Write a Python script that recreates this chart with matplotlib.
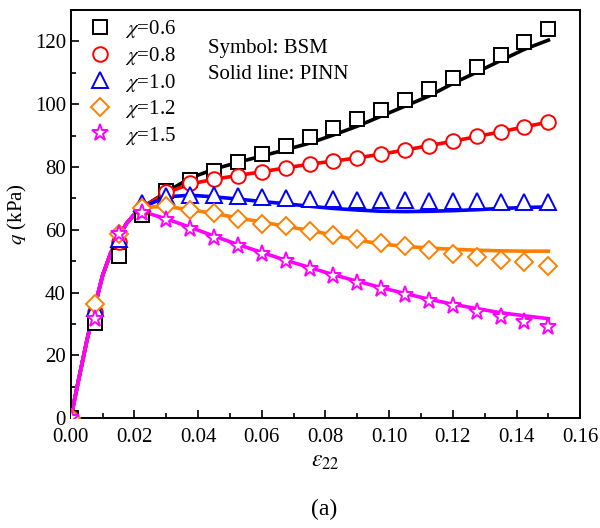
import matplotlib
matplotlib.use("Agg")
import matplotlib.pyplot as plt
from matplotlib.ticker import MultipleLocator, FormatStrFormatter

plt.rcParams['font.family'] = ['Liberation Serif', 'DejaVu Serif']
plt.rcParams['mathtext.fontset'] = 'stix'

# BSM sample strains
strain_bsm = [0.0, 0.0075, 0.015, 0.0225, 0.03, 0.0375, 0.045, 0.0525, 0.06, 0.0675,
              0.075, 0.0825, 0.09, 0.0975, 0.105, 0.1125, 0.12, 0.1275, 0.135, 0.1425, 0.15]

bsm_06 = [0.0, 30.3, 51.7, 64.7, 72.3, 75.8, 78.8, 81.5, 84.1, 86.8,
          89.5, 92.3, 95.2, 98.2, 101.4, 104.8, 108.4, 112.0, 115.8, 119.8, 123.9]
bsm_08 = [0.0, 33.8, 56.1, 66.8, 72.1, 75.0, 76.1, 77.2, 78.5, 79.8,
          80.9, 81.8, 82.8, 84.2, 85.4, 86.8, 88.2, 89.8, 91.1, 92.8, 94.4]
bsm_10 = [0.0, 35.1, 57.2, 68.4, 70.8, 71.2, 71.2, 70.8, 70.4, 70.1,
          69.9, 69.8, 69.6, 69.5, 69.4, 69.3, 69.2, 69.1, 69.0, 68.9, 68.8]
bsm_12 = [0.0, 36.5, 58.8, 66.8, 67.5, 66.3, 65.2, 63.4, 62.0, 61.1,
          59.7, 58.3, 57.0, 55.8, 54.8, 53.5, 52.4, 51.4, 50.5, 49.6, 48.5]
bsm_15 = [0.0, 31.7, 58.8, 65.2, 63.1, 60.4, 57.5, 54.9, 52.4, 50.0,
          47.6, 45.2, 43.2, 41.1, 39.1, 37.3, 35.6, 33.8, 32.2, 30.6, 29.0]

# PINN prediction strains
strain_pinn = [0.0, 0.0025, 0.005, 0.0075, 0.01, 0.0125, 0.015, 0.0175, 0.02, 0.0225,
               0.03, 0.0375, 0.045, 0.0525, 0.06, 0.0675, 0.075, 0.0825, 0.09, 0.0975,
               0.105, 0.1125, 0.12, 0.1275, 0.135, 0.1425, 0.15]

early = [0.0, 12.5, 24.5, 35.5, 45.5, 52.5, 57.8, 62.0, 65.0, 67.2]
pinn_06 = early + [72.0, 76.5, 79.3, 81.5, 83.5, 85.5, 87.6, 90.2, 93.0, 96.2,
                   99.4, 102.6, 106.6, 110.2, 113.9, 117.5, 120.4]
pinn_08 = early + [71.8, 74.6, 76.1, 77.3, 78.5, 79.7, 80.9, 81.9, 82.9, 84.1,
                   85.4, 86.8, 88.2, 89.7, 91.2, 92.8, 94.3]
pinn_10 = early + [70.5, 71.0, 70.5, 69.8, 69.0, 68.3, 67.5, 66.8, 66.3, 65.9,
                   65.8, 65.9, 66.1, 66.4, 66.8, 67.1, 67.3]
pinn_12 = early + [67.4, 66.4, 65.2, 63.8, 62.5, 61.1, 59.8, 58.3, 56.7, 55.5,
                   54.7, 54.2, 53.8, 53.5, 53.3, 53.2, 53.2]
pinn_15 = early[:-1] + [65.8, 63.5, 60.8, 58.0, 55.3, 52.8, 50.3, 48.0, 45.7, 43.6, 41.6,
                        39.7, 37.9, 36.3, 34.9, 33.6, 32.6, 31.7]

labels = [r'$\chi$=0.6', r'$\chi$=0.8', r'$\chi$=1.0', r'$\chi$=1.2', r'$\chi$=1.5']
colors = ['black', 'red', 'blue', '#FF8000', '#FF00FF']
markers = ['s', 'o', '^', 'D', '*']
msizes = [9.5, 10.5, 11, 9, 12.5]
bsm = [bsm_06, bsm_08, bsm_10, bsm_12, bsm_15]
pinn = [pinn_06, pinn_08, pinn_10, pinn_12, pinn_15]

fig = plt.figure(figsize=(6.0, 5.28), dpi=100)
ax = fig.add_axes([0.118, 0.208, 0.849, 0.773])

for yl, c in zip(pinn, colors):
    ax.plot(strain_pinn, yl, '-', color=c, lw=2.6, zorder=2)

handles = []
for ys, c, m, ms, lab in zip(bsm, colors, markers, msizes, labels):
    h, = ax.plot(strain_bsm, ys, linestyle='none', marker=m, ms=ms,
                 mfc='white', mec=c, mew=1.4, label=lab, zorder=3)
    handles.append(h)

ax.set_xlim(0, 0.16)
ax.set_ylim(0, 130)
ax.xaxis.set_major_locator(MultipleLocator(0.02))
ax.xaxis.set_minor_locator(MultipleLocator(0.01))
ax.yaxis.set_major_locator(MultipleLocator(20))
ax.yaxis.set_minor_locator(MultipleLocator(10))
ax.xaxis.set_major_formatter(FormatStrFormatter('%.2f'))
ax.tick_params(which='both', direction='in', top=False, right=False, labelsize=15)
ax.tick_params(which='major', length=6, width=1.2)
ax.tick_params(which='minor', length=3.5, width=1.2)
ax.tick_params(axis='x', which='major', pad=7)
for s in ax.spines.values():
    s.set_linewidth(1.4)

ax.set_xlabel(r'$\varepsilon_{22}$', fontsize=17, labelpad=3)
ax.set_ylabel(r'$q$ (kPa)', fontsize=15, labelpad=4)

ax.legend(handles=handles, loc='upper left', frameon=False, fontsize=15,
          handletextpad=0.6, labelspacing=0.22, borderaxespad=0.0,
          bbox_to_anchor=(0.017, 1.0), handlelength=1.2)

ax.text(0.27, 0.905, 'Symbol: BSM', transform=ax.transAxes, fontsize=15, va='center')
ax.text(0.27, 0.842, 'Solid line: PINN', transform=ax.transAxes, fontsize=15, va='center')

fig.text(0.54, 0.035, '(a)', ha='center', va='center', fontsize=17)

fig.savefig('out.png', dpi=100)
